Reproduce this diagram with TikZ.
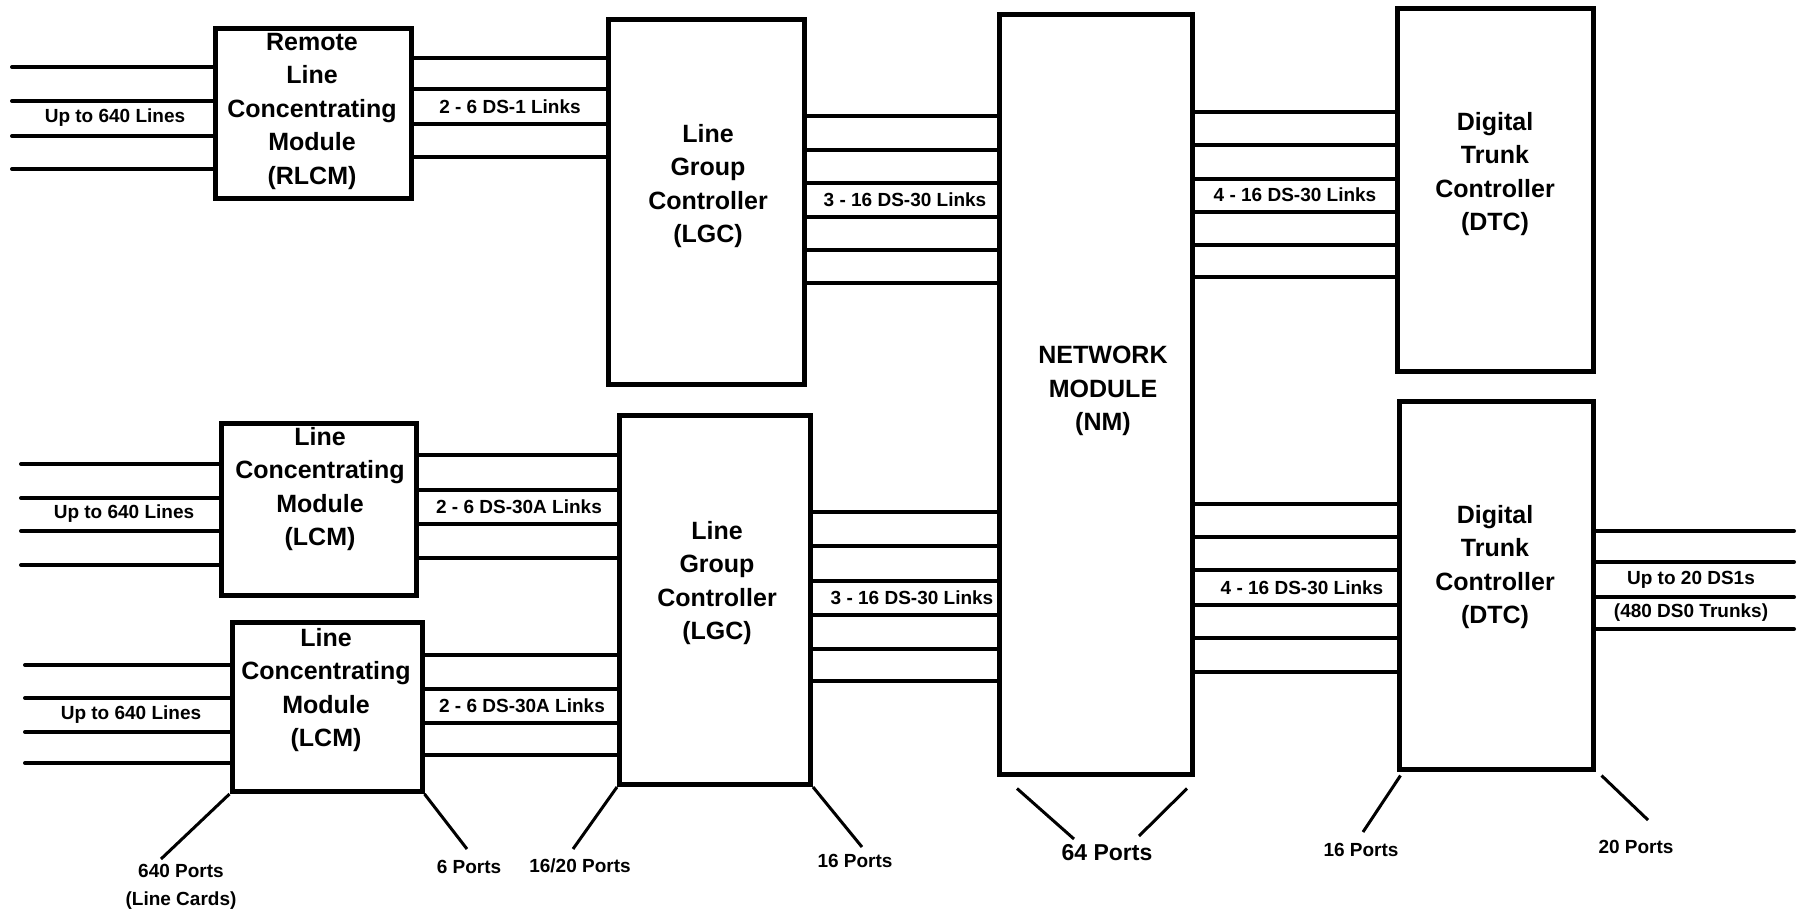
\documentclass[tikz,border=0pt]{standalone}
\usepackage{fontspec}
\setmainfont{Liberation Sans}
\begin{document}
\begin{tikzpicture}[x=1pt,y=-1pt,
  modbox/.style={draw, line width=5pt, inner sep=0pt},
  modtext/.style={font=\bfseries\fontsize{25}{33.5}\selectfont, align=center, inner sep=0pt},
  lbl/.style={font=\bfseries\fontsize{19}{31}\selectfont, align=center, inner sep=0pt},
  biglbl/.style={font=\bfseries\fontsize{23}{28}\selectfont, inner sep=0pt},
  link/.style={line width=4pt, line cap=round},
  port/.style={line width=3pt}]
\useasboundingbox (0,0) rectangle (1807,922);
\fill[white] (0,0) rectangle (1807,922);

% boxes
\node[modbox, minimum width=196pt, minimum height=170pt] (rlcm) at (313,113) {};
\node[modbox, minimum width=196pt, minimum height=365pt] (lgc1) at (706,202) {};
\node[modbox, minimum width=193pt, minimum height=760pt] (nm) at (1096,394) {};
\node[modbox, minimum width=196pt, minimum height=363pt] (dtc1) at (1495,190) {};
\node[modbox, minimum width=195pt, minimum height=172pt] (lcm1) at (319,509) {};
\node[modbox, minimum width=190pt, minimum height=169pt] (lcm2) at (327,707) {};
\node[modbox, minimum width=191pt, minimum height=369pt] (lgc2) at (715,600) {};
\node[modbox, minimum width=194pt, minimum height=368pt] (dtc2) at (1496,585) {};

% box texts
\node[modtext] (rlcmT) at (312,111) {Remote\\Line\\Concentrating\\Module\\(RLCM)};
\node[modtext] (lgc1T) at (708,186) {Line\\Group\\Controller\\(LGC)};
\node[modtext] (nmT) at (1103,391) {NETWORK\\MODULE\\(NM)};
\node[modtext] (dtc1T) at (1495,174) {Digital\\Trunk\\Controller\\(DTC)};
\node[modtext] (lcm1T) at (320,489) {Line\\Concentrating\\Module\\(LCM)};
\node[modtext] (lcm2T) at (326,690) {Line\\Concentrating\\Module\\(LCM)};
\node[modtext] (lgc2T) at (717,583) {Line\\Group\\Controller\\(LGC)};
\node[modtext] (dtc2T) at (1495,567) {Digital\\Trunk\\Controller\\(DTC)};

% free ends
\coordinate (inA) at (12,0);
\coordinate (inB) at (21,0);
\coordinate (inC) at (25,0);
\coordinate (outD) at (1794,0);

% link bundles
\foreach \y in {67,101,136,169} \draw[link] (inA |- 0,\y) -- (rlcm.west |- 0,\y);
\foreach \y in {58,89,124,157} \draw[link] (rlcm.east |- 0,\y) -- (lgc1.west |- 0,\y);
\foreach \y in {116,150,183,217,250,283} \draw[link] (lgc1.east |- 0,\y) -- (nm.west |- 0,\y);
\foreach \y in {112,145,179,212,245,277} \draw[link] (nm.east |- 0,\y) -- (dtc1.west |- 0,\y);
\foreach \y in {464,498,531,565} \draw[link] (inB |- 0,\y) -- (lcm1.west |- 0,\y);
\foreach \y in {455,490,524,558} \draw[link] (lcm1.east |- 0,\y) -- (lgc2.west |- 0,\y);
\foreach \y in {665,698,732,763} \draw[link] (inC |- 0,\y) -- (lcm2.west |- 0,\y);
\foreach \y in {655,689,723,755} \draw[link] (lcm2.east |- 0,\y) -- (lgc2.west |- 0,\y);
\foreach \y in {512,546,581,615,649,681} \draw[link] (lgc2.east |- 0,\y) -- (nm.west |- 0,\y);
\foreach \y in {504,537,570,605,638,672} \draw[link] (nm.east |- 0,\y) -- (dtc2.west |- 0,\y);
\foreach \y in {531,562,597,629} \draw[link] (dtc2.east |- 0,\y) -- (outD |- 0,\y);

% link labels
\node[lbl] (l1) at (115,118) {Up to 640 Lines};
\node[lbl] (l2) at (510,107) {2 - 6 DS-1 Links};
\node[lbl] (l3) at (905,200) {3 - 16 DS-30 Links};
\node[lbl] (l4) at (1295,195) {4 - 16 DS-30 Links};
\node[lbl] (l5) at (124,514) {Up to 640 Lines};
\node[lbl] (l6) at (519,507) {2 - 6 DS-30A Links};
\node[lbl] (l7) at (131,715) {Up to 640 Lines};
\node[lbl] (l8) at (522,706) {2 - 6 DS-30A Links};
\node[lbl] (l9) at (912,598) {3 - 16 DS-30 Links};
\node[lbl] (l10) at (1302,588) {4 - 16 DS-30 Links};
\node[lbl] (l11) at (1691,580) {Up to 20 DS1s};
\node[lbl] (l12) at (1691,613) {(480 DS0 Trunks)};

% port labels
\node[lbl] (p1) at (181,871) {640 Ports};
\node[lbl] (p1b) at (181,901) {(Line Cards)};
\node[lbl] (p2) at (469,867) {6 Ports};
\node[lbl] (p3) at (580,866) {16/20 Ports};
\node[lbl] (p4) at (855,861) {16 Ports};
\node[biglbl] (p5) at (1107,853) {64 Ports};
\node[lbl] (p6) at (1361,850) {16 Ports};
\node[lbl] (p7) at (1636,847) {20 Ports};

% port line ends
\coordinate (e1) at (161,859);
\coordinate (e2) at (467,849);
\coordinate (e3) at (573,849);
\coordinate (e4) at (862,847);
\coordinate (e5) at (1074,839);
\coordinate (e6) at (1139,836);
\coordinate (e7) at (1363,832);
\coordinate (e8) at (1648,820);

\draw[port] (lcm2.south west) -- (e1);
\draw[port] (lcm2.south east) -- (e2);
\draw[port] (lgc2.south west) -- (e3);
\draw[port] (lgc2.south east) -- (e4);
\draw[port] ([xshift=20pt,yshift=-12pt]nm.south west) -- (e5);
\draw[port] ([xshift=-8pt,yshift=-12pt]nm.south east) -- (e6);
\draw[port] ([xshift=4pt,yshift=-4pt]dtc2.south west) -- (e7);
\draw[port] ([xshift=6pt,yshift=-4pt]dtc2.south east) -- (e8);
\end{tikzpicture}
\end{document}
